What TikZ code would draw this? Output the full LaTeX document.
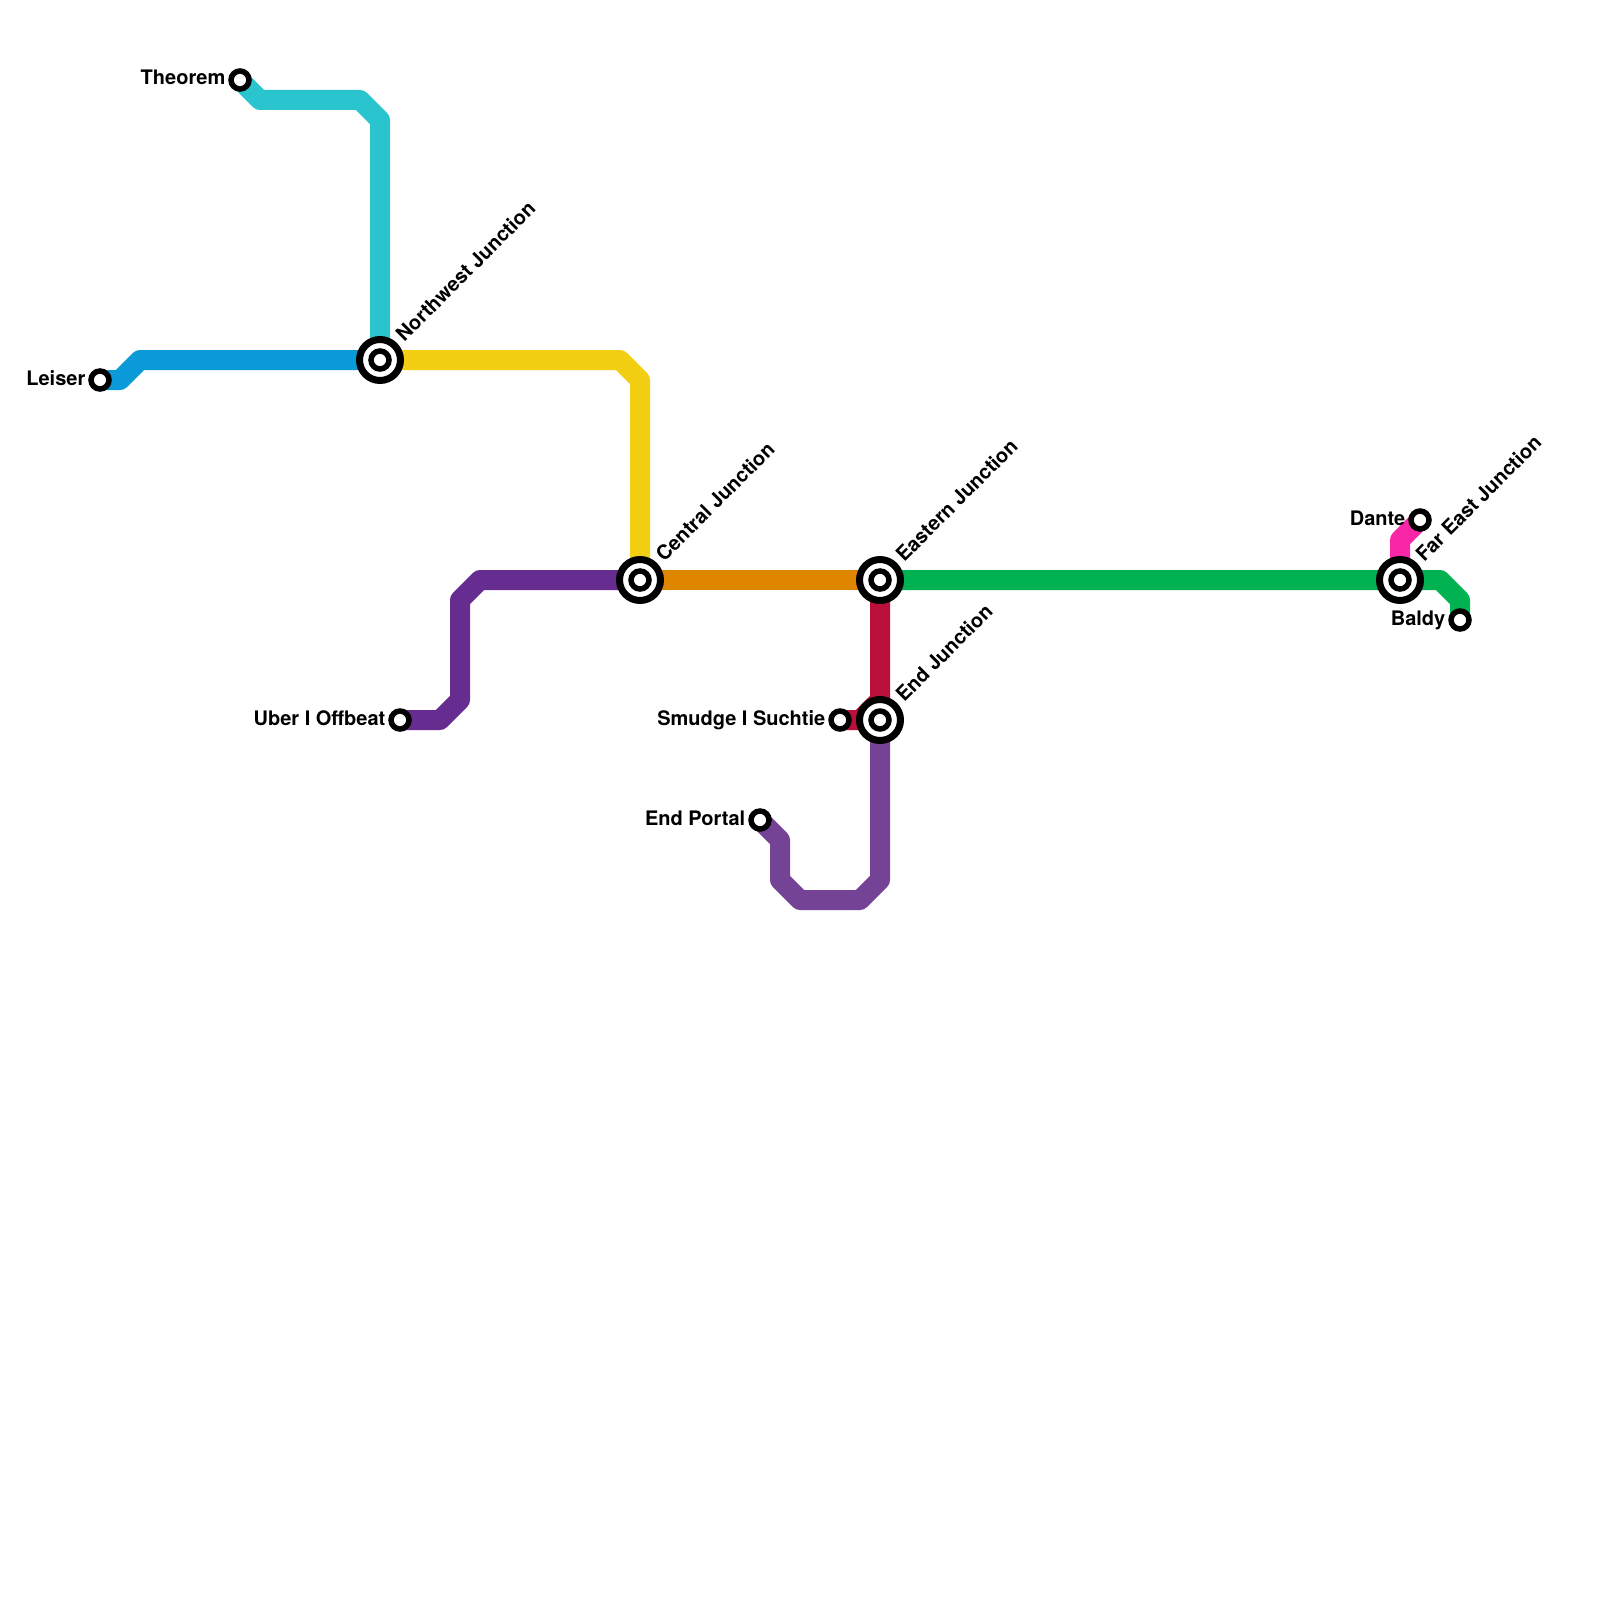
\documentclass[tikz,border=0pt]{standalone}
\usepackage{fontspec}
\setmainfont{TeX Gyre Heros}
\usetikzlibrary{positioning, backgrounds}
\definecolor{linecyan}{HTML}{2AC4CF}
\definecolor{lineblue}{HTML}{0A9AD8}
\definecolor{lineyellow}{HTML}{F2CF12}
\definecolor{lineindigo}{HTML}{662C90}
\definecolor{lineorange}{HTML}{DF8600}
\definecolor{linegreen}{HTML}{00B251}
\definecolor{linered}{HTML}{BB0F3B}
\definecolor{linepink}{HTML}{F926A8}
\definecolor{linepurple}{HTML}{744395}
\tikzset{
  metroline/.style={line width=20pt, line join=round},
  stopnode/.style={
    circle, draw=black, fill=white, line width=5.5pt,
    minimum size=18pt, inner sep=0pt
  },
  junctionring/.style={
    circle, draw=black, fill=white, line width=7pt,
    minimum size=41pt, inner sep=0pt
  },
  stoplabel/.style={
    font=\bfseries\fontsize{20pt}{22pt}\selectfont, inner sep=0pt,
    text height=14pt, text depth=4pt
  },
  junctionlabel/.style={
    font=\bfseries\fontsize{20pt}{22pt}\selectfont, inner sep=0pt,
    rotate=45, anchor=west
  },
}

\begin{document}
\begin{tikzpicture}[x=1pt, y=-1pt, node distance=2.75pt]
  \useasboundingbox (0,0) rectangle (1600,1600);

  % ── Junctions ──
  \node[junctionring] (northwestring) at (380,360) {};
  \node[stopnode] (northwest) at (380,360) {};
  \node[junctionring] (centralring) at (640,580) {};
  \node[stopnode] (central) at (640,580) {};
  \node[junctionring] (easternring) at (880,580) {};
  \node[stopnode] (eastern) at (880,580) {};
  \node[junctionring] (endring) at (880,720) {};
  \node[stopnode] (endjunction) at (880,720) {};
  \node[junctionring] (fareastring) at (1400,580) {};
  \node[stopnode] (fareast) at (1400,580) {};

  % ── Terminal stops ──
  \node[stopnode] (leiser) at (100,380) {};
  \node[stopnode] (theorem) at (240,80) {};
  \node[stopnode] (uber) at (400,720) {};
  \node[stopnode] (smudge) at (840,720) {};
  \node[stopnode] (portal) at (760,820) {};
  \node[stopnode] (dante) at (1420,520) {};
  \node[stopnode] (baldy) at (1460,620) {};

  % ── Labels ──
  \node[stoplabel, left=of leiser] (leiserlabel) {Leiser};
  \node[stoplabel, left=of theorem] (theoremlabel) {Theorem};
  \node[stoplabel, left=of uber] (uberlabel) {Uber I Offbeat};
  \node[stoplabel, left=of smudge] (smudgelabel) {Smudge I Suchtie};
  \node[stoplabel, left=of portal] (portallabel) {End Portal};
  \node[stoplabel, left=of dante] (dantelabel) {Dante};
  \node[stoplabel, left=of baldy] (baldylabel) {Baldy};
  \node[junctionlabel] (northwestlabel) at (399,337.5) {Northwest Junction};
  \node[junctionlabel] (centrallabel) at (659,557.5) {Central Junction};
  \node[junctionlabel] (easternlabel) at (899,557.5) {Eastern Junction};
  \node[junctionlabel] (endlabel) at (899,697.5) {End Junction};
  \node[junctionlabel] (fareastlabel) at (1419,557.5) {Far East Junction};

  % ── Lines ──
  \begin{scope}[on background layer]
    \draw[metroline, lineblue] (leiser.center) -- ++(20,0) -- ++(20,-20) -- (northwest.center);
    \draw[metroline, linecyan] (theorem.center) -- ++(20,20) -- ++(100,0) -- ++(20,20) -- (northwest.center);
    \draw[metroline, lineyellow] (northwest.center) -- ++(240,0) -- ++(20,20) -- (central.center);
    \draw[metroline, lineindigo] (central.center) -- ++(-160,0) -- ++(-20,20) -- ++(0,100) -- ++(-20,20) -- (uber.center);
    \draw[metroline, lineorange] (central.center) -- (eastern.center);
    \draw[metroline, linegreen] (eastern.center) -- ++(560,0) -- ++(20,20) -- (baldy.center);
    \draw[metroline, linered] (eastern.center) -- ++(0,120) -- ++(-20,20) -- (smudge.center);
    \draw[metroline, linepurple] (endjunction.center) -- ++(0,160) -- ++(-20,20) -- ++(-60,0) -- ++(-20,-20) -- ++(0,-40) -- (portal.center);
    \draw[metroline, linepink] (fareast.center) -- ++(0,-40) -- (dante.center);
  \end{scope}
\end{tikzpicture}
\end{document}
